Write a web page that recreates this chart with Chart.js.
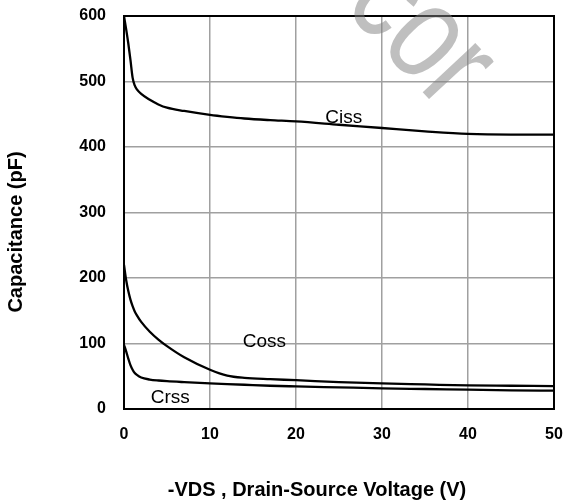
<!DOCTYPE html>
<html>
<head>
<meta charset="utf-8">
<script src="https://cdn.jsdelivr.net/npm/chart.js@4"></script>
<style>
  html, body { margin: 0; padding: 0; background: #fff; }
  canvas { display: block; }
</style>
</head>
<body>
<canvas id="capChart" width="574" height="502"></canvas>
<script>
// drain-source voltage (V), shared by the three curves
const vds  = [0, 0.25, 0.5, 0.75, 1, 1.25, 1.5, 2, 3, 4, 5, 7, 10, 12, 14, 17, 20, 25, 30, 35, 40, 45, 50];
const ciss = [600, 580, 558, 533, 506, 494, 488, 481, 472, 465, 460, 455, 449, 446, 443.5, 441, 439, 434, 429, 424, 420, 419, 419];
const coss = [220, 197, 180, 167, 157, 149, 143, 133, 118, 106, 96, 79, 60, 51, 47.5, 45.5, 44, 41, 39, 37.5, 36, 35.5, 35];
const crss = [98, 88, 77, 67, 60, 55, 52, 48, 45, 43.5, 42.5, 41, 39, 38, 37, 35.5, 34.5, 33, 31.5, 30.5, 29.5, 28.5, 28];

const xTicks = [0, 10, 20, 30, 40, 50];
const yTicks = [0, 100, 200, 300, 400, 500, 600];

// curve names and where they sit (in data units)
const curveNames = ['Ciss', 'Coss', 'Crss'];
const nameX = [23.4, 13.8, 3.1];
const nameY = [436.6, 94.7, 9];

const xTitle = '-VDS , Drain-Source Voltage (V)';
const yTitle = 'Capacitance (pF)';

const FONT = '"Liberation Sans", Arial, sans-serif';

const toPoints = vals => vals.map((v, i) => ({ x: vds[i], y: v }));

const extras = {
    id: 'extras',
    afterDraw(chart) {
        const ctx = chart.ctx;
        const a = chart.chartArea;
        const xs = chart.scales.x;
        const ys = chart.scales.y;
        ctx.save();

        // plot frame
        ctx.strokeStyle = '#000';
        ctx.lineWidth = 2;
        ctx.strokeRect(a.left, a.top, a.right - a.left, a.bottom - a.top);

        // curve names
        ctx.fillStyle = '#000';
        ctx.font = '19px ' + FONT;
        ctx.textAlign = 'left';
        ctx.textBaseline = 'alphabetic';
        curveNames.forEach((n, i) => {
            ctx.fillText(n, xs.getPixelForValue(nameX[i]), ys.getPixelForValue(nameY[i]));
        });

        // axis titles
        ctx.font = 'bold 20px ' + FONT;
        ctx.textAlign = 'center';
        ctx.fillText(xTitle, 317, 496);
        ctx.translate(16, 232);
        ctx.rotate(-Math.PI / 2);
        ctx.textBaseline = 'middle';
        ctx.fillText(yTitle, 0, 0);
        ctx.restore();

        // faint watermark
        ctx.save();
        ctx.fillStyle = 'rgba(128,128,128,0.5)';
        ctx.font = '105px ' + FONT;
        ctx.translate(342, 6);
        ctx.rotate(47 * Math.PI / 180);
        ctx.scale(1, 1.3);
        ctx.textAlign = 'left';
        ctx.textBaseline = 'alphabetic';
        ctx.fillText('cor', 0, 0);
        ctx.restore();
    }
};

const lineStyle = {
    borderColor: '#000',
    borderWidth: 2.3,
    pointRadius: 0,
    fill: false,
    cubicInterpolationMode: 'monotone'
};

new Chart(document.getElementById('capChart'), {
    type: 'line',
    plugins: [extras],
    data: {
        datasets: [
            { label: 'Ciss', data: toPoints(ciss), ...lineStyle },
            { label: 'Coss', data: toPoints(coss), ...lineStyle },
            { label: 'Crss', data: toPoints(crss), ...lineStyle }
        ]
    },
    options: {
        responsive: false,
        animation: false,
        layout: { padding: { top: 16, right: 20, left: 0, bottom: 0 } },
        plugins: {
            legend: { display: false },
            tooltip: { enabled: false }
        },
        scales: {
            x: {
                type: 'linear',
                min: 0,
                max: 50,
                afterBuildTicks: s => { s.ticks = xTicks.map(v => ({ value: v })); },
                afterFit: s => { s.height = 93; s.paddingLeft = 0; s.paddingRight = 0; },
                grid: { color: '#a0a0a0', lineWidth: 1.5, drawTicks: false },
                border: { display: false },
                ticks: { color: '#000', padding: 16, font: { family: FONT, size: 16, weight: 'bold' } }
            },
            y: {
                min: 0,
                max: 600,
                afterBuildTicks: s => { s.ticks = yTicks.map(v => ({ value: v })); },
                afterFit: s => { s.width = 124; s.paddingTop = 0; s.paddingBottom = 0; },
                grid: { color: '#a0a0a0', lineWidth: 1.5, drawTicks: false },
                border: { display: false },
                ticks: { color: '#000', padding: 18, font: { family: FONT, size: 16, weight: 'bold' } }
            }
        }
    }
});
</script>
</body>
</html>
